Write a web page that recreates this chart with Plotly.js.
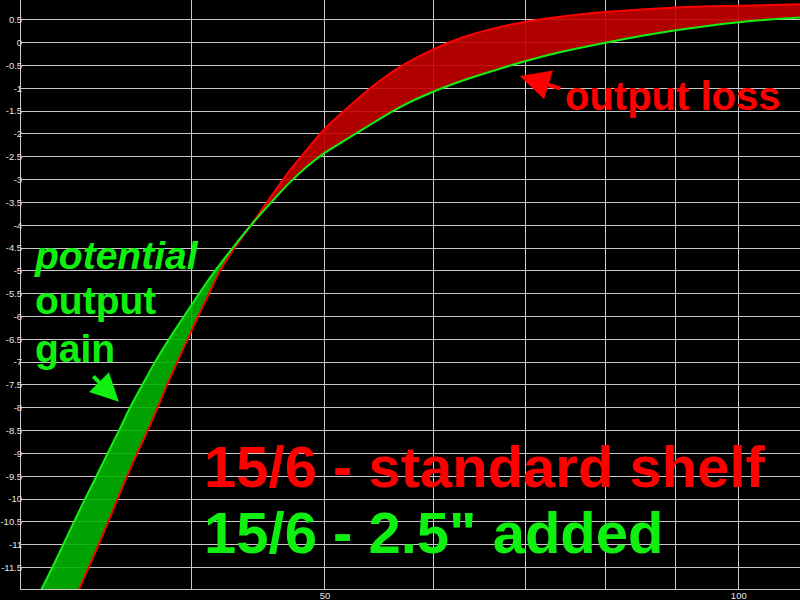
<!DOCTYPE html>
<html>
<head>
<meta charset="utf-8">
<script src="https://cdn.plot.ly/plotly-3.0.1.min.js"></script>
<style>
  body { margin: 0; background: #000; }
</style>
</head>
<body>
<div id="chart" style="width:800px;height:600px"></div>
<script>
// frequency (Hz) / level (dB)
var crossHz = 44.17

var redHz = [33.09, 33.65, 34.22, 34.77, 35.32, 35.89, 36.5, 37.15, 37.77, 38.38, 39.03, 39.72, 40.42, 41.17, 41.94, 42.97, 44.17, 45.85, 47.15, 48.5, 50, 51.3, 54.2, 56.7, 60, 63.0, 66.7, 70, 74.1, 80, 90, 100, 110.8]
var redDb = [-12, -11.5, -11, -10.5, -10, -9.5, -9, -8.5, -8, -7.5, -7, -6.5, -6, -5.5, -5, -4.5, -4.0, -3.30, -2.80, -2.35, -1.88, -1.57, -0.95, -0.53, -0.14, 0.12, 0.33, 0.46, 0.57, 0.67, 0.77, 0.81, 0.84]

var greenHz = [31.07, 31.67, 32.25, 32.84, 33.45, 34.10, 34.74, 35.41, 36.07, 36.82, 37.61, 38.50, 39.48, 40.49, 41.59, 42.83, 44.17, 45.85, 47.15, 48.5, 50, 51.3, 54.2, 56.7, 60, 63.0, 66.7, 70, 74.1, 80, 90, 100, 110.8]
var greenDb = [-12, -11.5, -11, -10.5, -10, -9.5, -9, -8.5, -8, -7.5, -7, -6.5, -6, -5.5, -5, -4.5, -4.0, -3.45, -3.06, -2.72, -2.41, -2.20, -1.76, -1.41, -1.07, -0.83, -0.59, -0.40, -0.21, 0.00, 0.27, 0.45, 0.55]

var yTicks = [0.5, 0, -0.5, -1, -1.5, -2, -2.5, -3, -3.5, -4, -4.5, -5, -5.5, -6, -6.5, -7, -7.5, -8, -8.5, -9, -9.5, -10, -10.5, -11, -11.5]
var xTicks = [30, 40, 50, 60, 70, 80, 90, 100]
var xLabels = ['', '', '50', '', '', '', '', '100']

var RED = '#ff0000'
var GREEN = '#10f010'

// split a curve at the crossover so each side gets its own fill colour
function side(hz, db, left) {
  var out = {x: [], y: []}
  hz.forEach(function (f, i) {
    if ((left && f <= crossHz) || (!left && f >= crossHz)) {
      out.x.push(f)
      out.y.push(db[i])
    }
  })
  return out
}

var redL = side(redHz, redDb, true)
var greenL = side(greenHz, greenDb, true)
var redR = side(redHz, redDb, false)
var greenR = side(greenHz, greenDb, false)

var noLine = {width: 0, shape: 'spline', smoothing: 1}

var traces = [
  {x: redL.x, y: redL.y, mode: 'lines', line: noLine, hoverinfo: 'skip'},
  {x: greenL.x, y: greenL.y, mode: 'lines', line: noLine, fill: 'tonexty', fillcolor: 'rgba(0,178,0,0.9)', hoverinfo: 'skip'},
  {x: greenR.x, y: greenR.y, mode: 'lines', line: noLine, hoverinfo: 'skip'},
  {x: redR.x, y: redR.y, mode: 'lines', line: noLine, fill: 'tonexty', fillcolor: 'rgba(195,0,0,0.9)', hoverinfo: 'skip'},
  {x: redHz, y: redDb, mode: 'lines', line: {color: RED, width: 2, shape: 'spline', smoothing: 1}},
  {x: greenHz, y: greenDb, mode: 'lines', line: {color: GREEN, width: 2, shape: 'spline', smoothing: 1}}
]

var bigFont = {family: 'Arial, Liberation Sans, sans-serif', size: 58}
var midFont = {family: 'Arial, Liberation Sans, sans-serif', size: 39}

var annotations = [
  {xref: 'paper', yref: 'paper', x: 0.2324, y: 0.2088, xanchor: 'left', yanchor: 'middle', showarrow: false,
   text: '<b>15/6 - standard shelf</b>', font: Object.assign({color: RED}, bigFont)},
  {xref: 'paper', yref: 'paper', x: 0.2324, y: 0.0951, xanchor: 'left', yanchor: 'middle', showarrow: false,
   text: '<b>15/6 - 2.5" added</b>', font: Object.assign({color: GREEN}, bigFont)},
  {xref: 'paper', yref: 'paper', x: 0.0141, y: 0.5654, xanchor: 'left', yanchor: 'middle', showarrow: false,
   text: '<b><i>potential</i></b>', font: Object.assign({color: GREEN}, midFont)},
  {xref: 'paper', yref: 'paper', x: 0.0154, y: 0.489, xanchor: 'left', yanchor: 'middle', showarrow: false,
   text: '<b>output</b>', font: Object.assign({color: GREEN}, midFont)},
  {xref: 'paper', yref: 'paper', x: 0.0154, y: 0.409, xanchor: 'left', yanchor: 'middle', showarrow: false,
   text: '<b>gain</b>', font: Object.assign({color: GREEN}, midFont)},
  {xref: 'paper', yref: 'paper', x: 0.6957, y: 0.8370, xanchor: 'left', yanchor: 'middle', showarrow: false,
   text: '<b>output loss</b>', font: {family: midFont.family, size: 40, color: RED}},
  // arrows
  {x: Math.log10(69.3), y: -0.73, text: '', showarrow: true, arrowhead: 2, arrowsize: 1.5, arrowwidth: 4,
   arrowcolor: RED, ax: 42, ay: 13},
  {x: Math.log10(35.4), y: -7.87, text: '', showarrow: true, arrowhead: 2, arrowsize: 1.4, arrowwidth: 4,
   arrowcolor: GREEN, ax: -27, ay: -27}
]

var tickFont = {family: 'Arial, Liberation Sans, sans-serif', size: 9.5, color: '#e6e6e6'}

var layout = {
  paper_bgcolor: '#000',
  plot_bgcolor: '#000',
  margin: {l: 21, r: 0, t: 0, b: 11},
  showlegend: false,
  xaxis: {
    type: 'log',
    range: [Math.log10(30.05), Math.log10(110.8)],
    tickvals: xTicks,
    ticktext: xLabels,
    ticks: '',
    ticklabelstandoff: -2,
    tickfont: tickFont,
    gridcolor: '#c8c8c8',
    gridwidth: 1,
    showline: true,
    linecolor: '#c8c8c8',
    zeroline: false
  },
  yaxis: {
    range: [-11.97, 0.935],
    tickvals: yTicks,
    ticktext: yTicks.map(String),
    ticks: '',
    ticklabelstandoff: -4,
    tickfont: tickFont,
    gridcolor: '#c8c8c8',
    gridwidth: 1,
    showline: true,
    linecolor: '#c8c8c8',
    zeroline: false
  },
  annotations: annotations
}

Plotly.newPlot(document.getElementById('chart'), traces, layout, {staticPlot: true})
</script>
</body>
</html>
